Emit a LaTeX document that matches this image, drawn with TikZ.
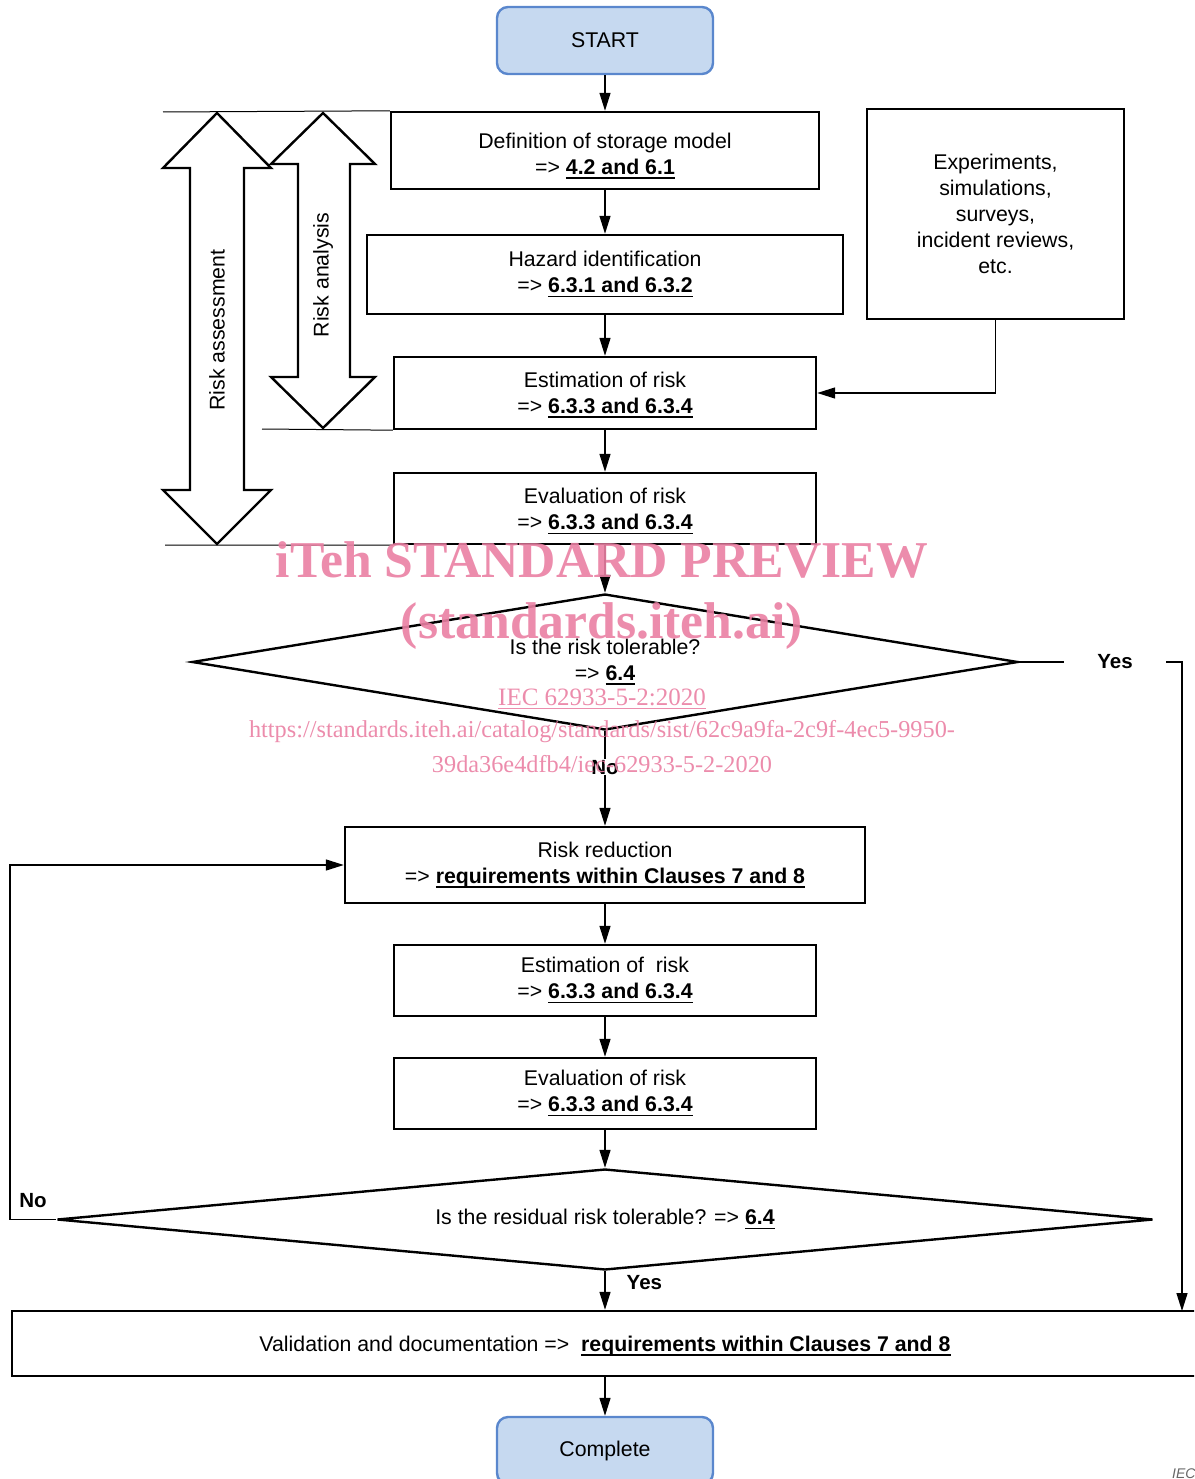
\documentclass[tikz,border=0pt]{standalone}
\usepackage{fontspec}
\setmainfont{Liberation Sans}
\newfontfamily\wmfont{Liberation Serif}
\usetikzlibrary{arrows.meta,shapes.geometric}
\definecolor{startfill}{RGB}{198,217,240}
\definecolor{startdraw}{RGB}{90,135,205}
\definecolor{wmpink}{RGB}{234,128,163}
\newcommand\myul[1]{\setbox0\hbox{\bfseries #1}\rlap{\rule[-4.5pt]{\wd0}{1.5pt}}\box0}
\newcommand\wmul[1]{\setbox0\hbox{#1}\rlap{\rule[-4pt]{\wd0}{1.2pt}}\box0}
\begin{document}
\begin{tikzpicture}[x=1pt,y=-1pt,
  every node/.style={font=\fontsize{21.3}{26}\selectfont},
  box/.style={draw, line width=2.4pt, align=center, inner sep=0pt},
  term/.style={draw=startdraw, fill=startfill, line width=2.4pt, rounded corners=11pt, align=center, inner sep=0pt, minimum width=216pt, minimum height=67pt},
  dia/.style={diamond, draw, line width=2.4pt, align=center, inner sep=0pt},
  conn/.style={line width=1.4pt, -{Triangle[length=18pt,width=11pt]}},
  plain/.style={line width=1.4pt},
  thin/.style={line width=1pt},
  dbl/.style={draw, line width=2.4pt, fill=white, line join=miter},
  lbl/.style={font=\fontsize{20.5}{24}\selectfont\bfseries, inner sep=1pt},
  wm/.style={text=wmpink, opacity=0.9, inner sep=0pt}
]
\useasboundingbox (0,0) rectangle (1194,1479);
\clip (0,0) rectangle (1194,1479);

% side double arrows
\draw[dbl] (217,113) -- (271,168) -- (244,168) -- (244,490) -- (271,490) -- (217,544) -- (163,490) -- (190,490) -- (190,168) -- (163,168) -- cycle;
\draw[dbl] (323,113) -- (375,164) -- (350,164) -- (350,377) -- (375,377) -- (323,428) -- (271,377) -- (298,377) -- (298,164) -- (271,164) -- cycle;
\node[rotate=90] (ra) at (217,330) {Risk assessment};
\node[rotate=90] (ran) at (323,275) {Risk analysis};

% nodes
\node[term] (start) at (605,40.5) {START};
\node[box, minimum width=428pt, minimum height=77pt] (b1) at (605,150.5) {\rule{0pt}{26pt}Definition of storage model\\=> \myul{4.2 and 6.1}};
\node[box, minimum width=476pt, minimum height=79pt] (b2) at (605,274.5) {Hazard identification\\=> \myul{6.3.1 and 6.3.2}};
\node[box, minimum width=422pt, minimum height=72pt] (e1) at (605,393) {\rule{0pt}{19pt}Estimation of risk\\=> \myul{6.3.3 and 6.3.4}};
\node[box, minimum width=422pt, minimum height=71pt] (v1) at (605,508.5) {\rule{0pt}{21pt}Evaluation of risk\\=> \myul{6.3.3 and 6.3.4}};
\node[box, minimum width=257pt, minimum height=210pt] (exp) at (995.5,214) {Experiments,\\simulations,\\surveys,\\incident reviews,\\etc.};
\node[dia, aspect=6.07, minimum width=826pt, minimum height=136pt] (d1) at (605,662) {Is the risk tolerable?\\=> \myul{6.4}};
\node[box, minimum width=520pt, minimum height=76pt] (rr) at (605,865) {Risk reduction\\=> \myul{requirements within Clauses 7 and 8}};
\node[box, minimum width=422pt, minimum height=71pt] (e2) at (605,980.5) {Estimation of\ \ risk\\=> \myul{6.3.3 and 6.3.4}};
\node[box, minimum width=422pt, minimum height=71pt] (v2) at (605,1093.5) {Evaluation of risk\\=> \myul{6.3.3 and 6.3.4}};
\node[dia, aspect=10.85, minimum width=1096pt, minimum height=101pt] (d2) at (605,1219.5) {Is the residual risk tolerable? => \myul{6.4}};
\node[box, minimum width=1186pt, minimum height=65pt] (val) at (605,1343.5) {\rule{0pt}{20pt}Validation and documentation =>\ \ \myul{requirements within Clauses 7 and 8}};
\node[term] (comp) at (605,1450.5) {Complete};

% reference lines
\coordinate (l1a) at (163,112);
\coordinate (l2a) at (262,429);
\coordinate (l3a) at (165,545);
\draw[thin] (l1a) -- (b1.north west);
\draw[thin] (l2a) -- (e1.south west);
\draw[thin] (l3a) -- (v1.south west);

% connectors
\draw[conn] (start) -- (b1);
\draw[conn] (b1) -- (b2);
\draw[conn] (b2) -- (e1);
\draw[conn] (e1) -- (v1);
\draw[conn] (v1) -- (d1.north);
\draw[conn] (exp.south) |- (e1.east);
\draw[conn] (d1.south) -- node[lbl, fill=white, pos=0.38] (no1) {No} (rr.north);
\draw[conn] (rr) -- (e2);
\draw[conn] (e2) -- (v2);
\draw[conn] (v2) -- (d2.north);
\draw[conn] (d2.south) -- node[lbl, right=20pt, pos=0.3] (yes2) {Yes} (val.north);
\draw[conn] (val) -- (comp);

\node[lbl, minimum width=102pt, inner sep=0pt] (yes1) at (1115,662) {Yes};
\coordinate (vy) at (1182,1311);
\draw[plain] (d1.east) -- (yes1.west);
\draw[conn] (yes1.east) -| (vy);

\coordinate (lp) at (10,1219.5);
\draw[conn] (d2.west) -- (lp) |- (rr.west);
\node[lbl] (no2) at (33,1201) {No};

\node[font=\fontsize{14}{16}\selectfont\itshape, text=black!60, anchor=north west, inner sep=0pt] (iec) at (1172,1469) {IEC};

% watermark
\node[wm, font=\wmfont\bfseries\fontsize{51.7}{56}\selectfont] (wm1) at (602,560) {iTeh STANDARD PREVIEW};
\node[wm, font=\wmfont\bfseries\fontsize{51.7}{56}\selectfont] (wm2) at (602,626) {(standards.iteh.ai)};
\node[wm, font=\wmfont\fontsize{25}{30}\selectfont] (wm3) at (602,699) {\wmul{IEC 62933-5-2:2020}};
\node[wm, font=\wmfont\fontsize{24.3}{30}\selectfont] (wm4) at (602,732) {https://standards.iteh.ai/catalog/standards/sist/62c9a9fa-2c9f-4ec5-9950-};
\node[wm, font=\wmfont\fontsize{24.3}{30}\selectfont] (wm5) at (602,764) {39da36e4dfb4/iec-62933-5-2-2020};
\end{tikzpicture}
\end{document}
